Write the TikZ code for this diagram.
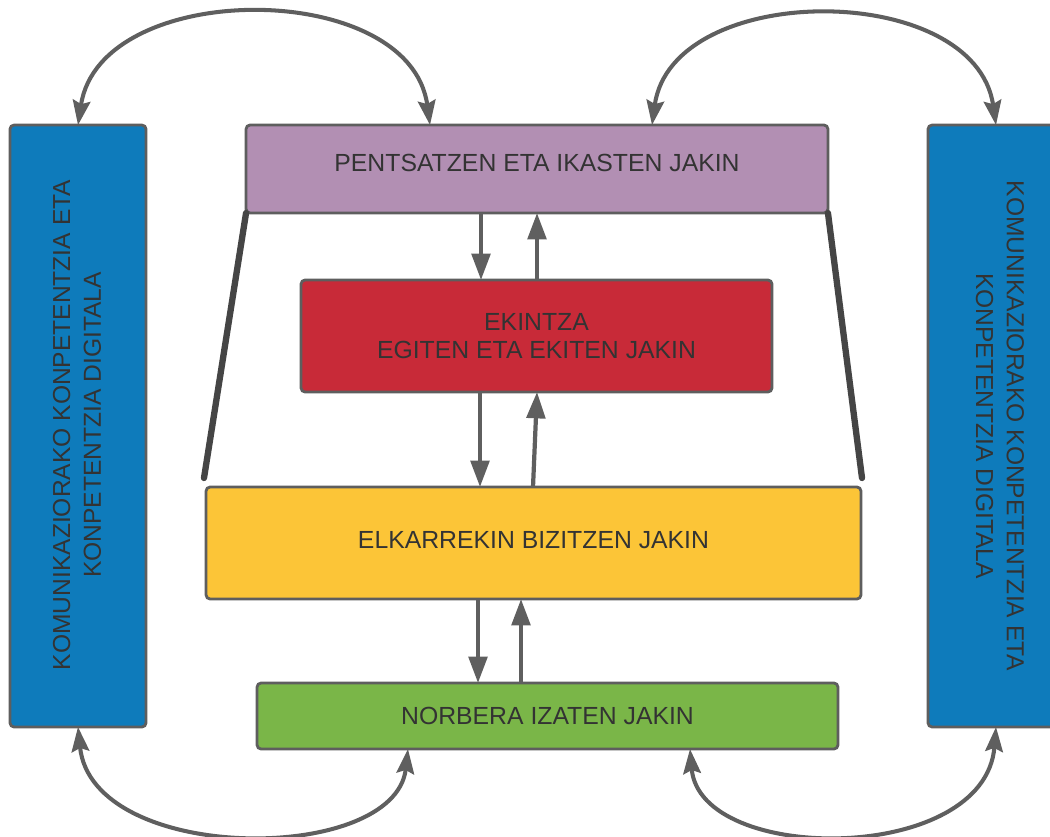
\documentclass[tikz,border=0pt]{standalone}
\usepackage{fontspec}
\setmainfont{Liberation Sans}
\usetikzlibrary{arrows.meta}

\definecolor{commblue}{HTML}{0E7BBB}
\definecolor{thinkpurple}{HTML}{B28FB3}
\definecolor{actred}{HTML}{C82A38}
\definecolor{liveyellow}{HTML}{FCC537}
\definecolor{selfgreen}{HTML}{7AB648}
\definecolor{boxline}{HTML}{5E5E5E}
\definecolor{arrowgray}{HTML}{5F5F5F}
\definecolor{sidegray}{HTML}{454545}
\definecolor{labeltext}{HTML}{333333}

\begin{document}
\begin{tikzpicture}[x=0.02cm, y=-0.02cm,
    box/.style={draw=boxline, line width=1.6pt, rounded corners=0.08cm,
        inner sep=0pt, outer sep=0pt, text=labeltext, align=center,
        font=\fontsize{14.1}{16}\selectfont},
    flow/.style={-{Triangle[length=15pt, width=10.5pt]}, draw=arrowgray,
        line width=2.4pt},
    loop/.style={{Stealth[length=14pt, width=10pt, inset=2pt]}-{Stealth[length=14pt, width=10pt, inset=2pt]},
        draw=arrowgray, line width=2.3pt},
    side/.style={draw=sidegray, line width=3.6pt, line cap=round}]

\useasboundingbox (0,0) rectangle (1050,836);

\begin{scope}[every node/.style={box}]
    \node[fill=commblue, minimum width=2.72cm, minimum height=12.04cm] (leftbox) at (78,426) {};
    \node[fill=commblue, minimum width=2.72cm, minimum height=12.04cm] (rightbox) at (996,426) {};
    \node[fill=thinkpurple, minimum width=11.64cm, minimum height=1.76cm,
        text height=10pt, text depth=6.8pt] (think) at (537,169) {PENTSATZEN ETA IKASTEN JAKIN};
    \node[fill=actred, minimum width=9.42cm, minimum height=2.24cm] (act) at (536.5,336) {EKINTZA\\EGITEN ETA EKITEN JAKIN};
    \node[fill=liveyellow, minimum width=13.1cm, minimum height=2.24cm,
        text height=10pt, text depth=4pt] (live) at (533.5,543) {ELKARREKIN BIZITZEN JAKIN};
    \node[fill=selfgreen, minimum width=11.62cm, minimum height=1.32cm] (self) at (547.5,716) {NORBERA IZATEN JAKIN};
\end{scope}

\begin{scope}[every node/.style={text=labeltext, align=center, inner sep=0pt,
        font=\fontsize{14}{17.5}\selectfont}]
    \node[rotate=90] (lefttext) at (77,425) {KOMUNIKAZIORAKO KONPETENTZIA ETA\\KONPETENTZIA DIGITALA};
    \node[rotate=-90] (righttext) at (1000,426) {KOMUNIKAZIORAKO KONPETENTZIA ETA\\KONPETENTZIA DIGITALA};
\end{scope}

\coordinate (lfoot) at (204,478);
\coordinate (rfoot) at (862,478);

\begin{scope}[flow]
    \draw (481,0 |- think.south) -- (481,0 |- act.north);
    \draw (537,0 |- act.north) -- (537,0 |- think.south);
    \draw (480,0 |- act.south) -- (480,0 |- live.north);
    \draw (533,0 |- live.north) -- (537,0 |- act.south);
    \draw (478,0 |- live.south) -- (478,0 |- self.north);
    \draw (521,0 |- self.north) -- (521,0 |- live.south);
\end{scope}

\begin{scope}[loop]
    \draw (430,0 |- think.north) .. controls (410,-22) and (100,-22) .. (leftbox.north);
    \draw (652,0 |- think.north) .. controls (672,-20) and (975,-20) .. (rightbox.north);
    \draw (leftbox.south) .. controls (92,865) and (395,865) .. (408,0 |- self.south);
    \draw (690,0 |- self.south) .. controls (700,865) and (985,865) .. (rightbox.south);
\end{scope}

\draw[side] (think.south west) -- (lfoot);
\draw[side] (think.south east) -- (rfoot);

\end{tikzpicture}
\end{document}
